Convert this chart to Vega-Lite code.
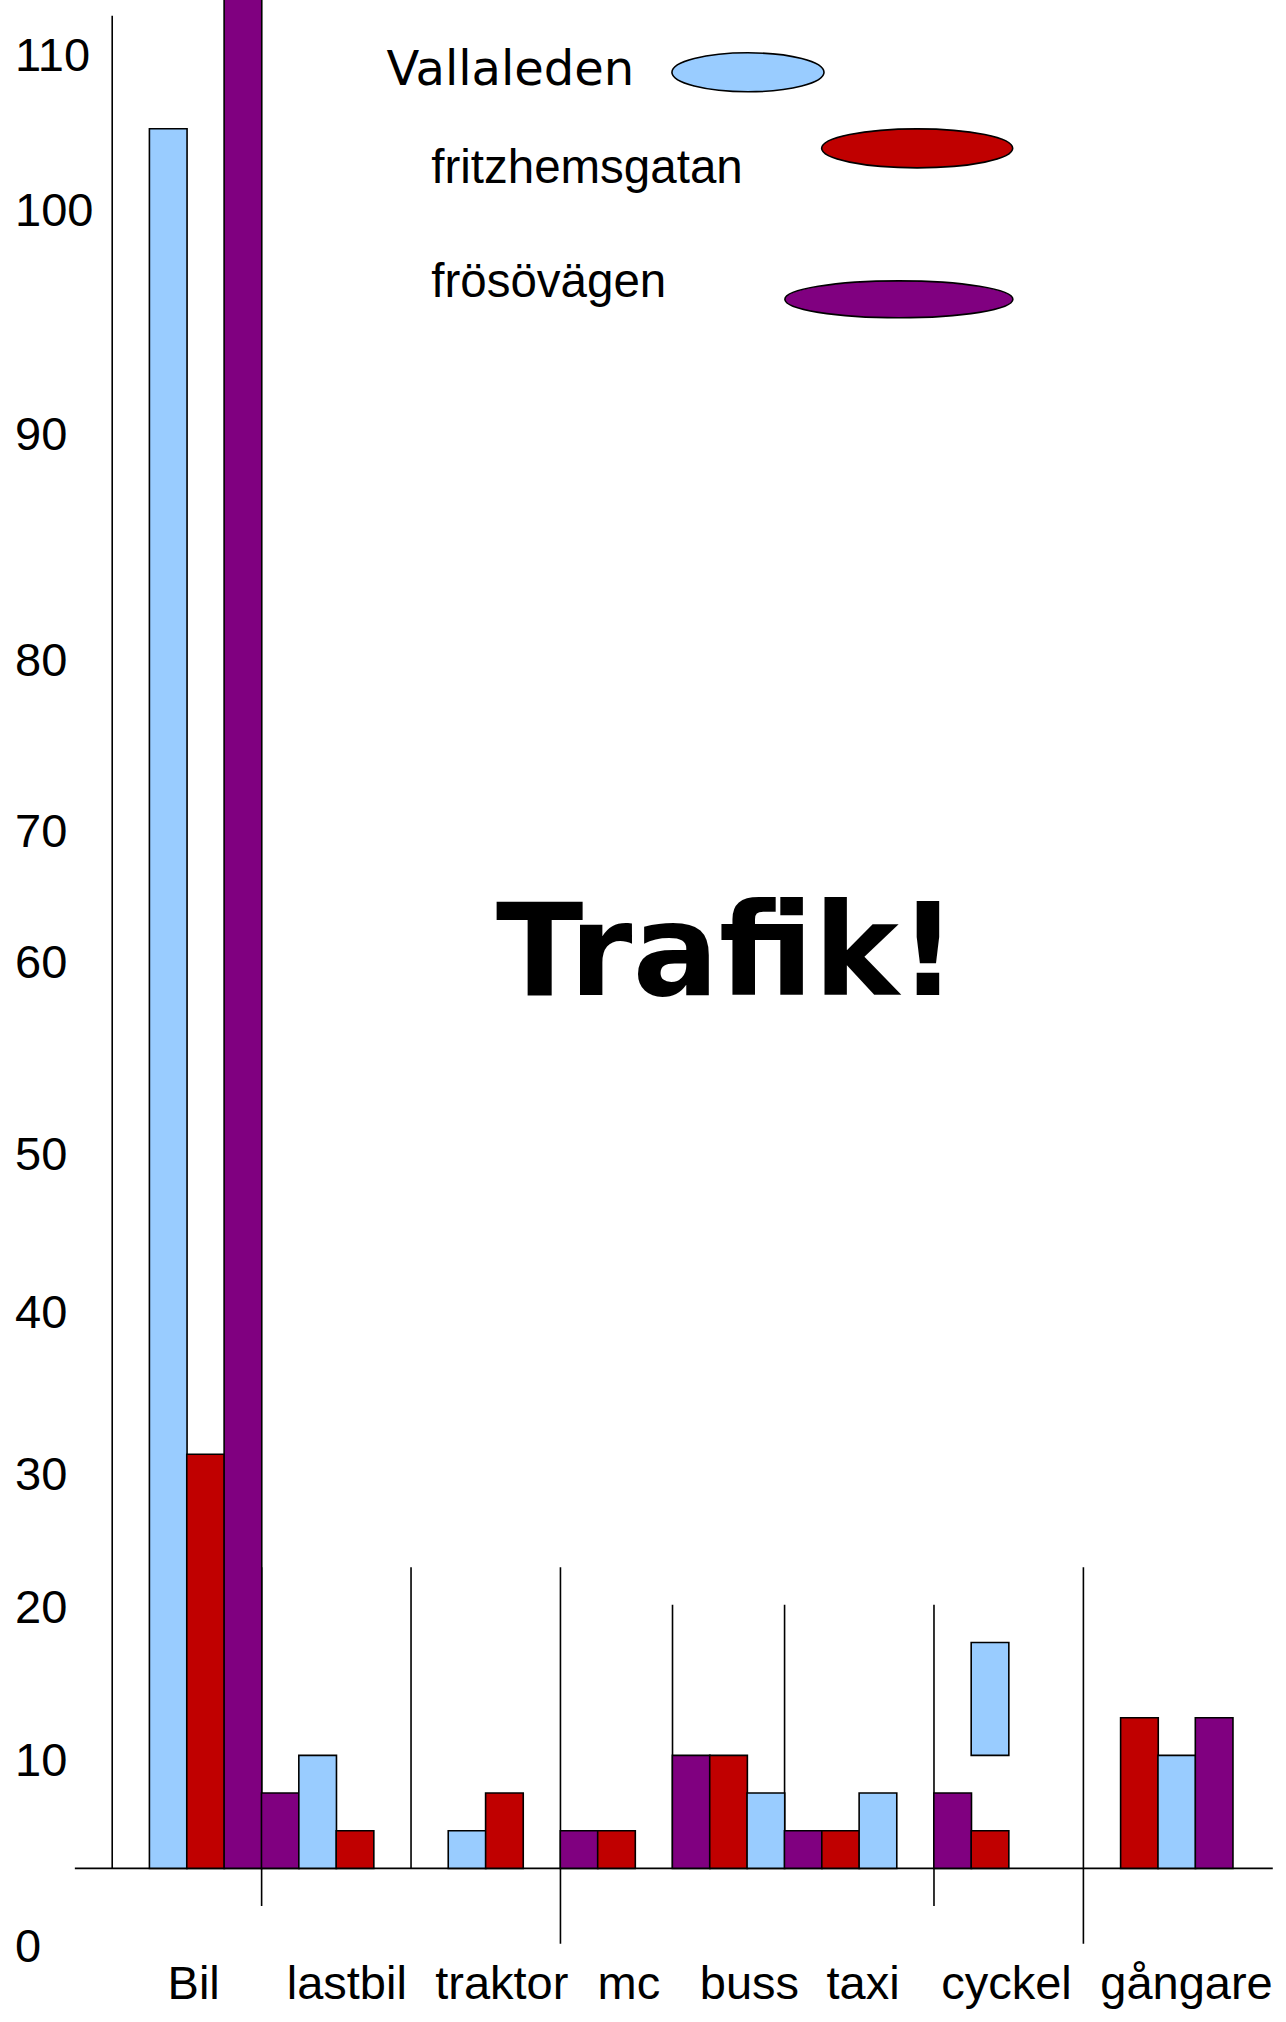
{
  "$schema": "https://vega.github.io/schema/vega-lite/v6.json",
  "width": 1286,
  "height": 2022,
  "autosize": {"type": "none"},
  "padding": 0,
  "background": "white",
  "config": {"view": {"stroke": null}},
  "layer": [
    {
      "data": {"values": [
        {"x": -1, "x2": -1, "y": 0, "y2": 49.2},
        {"x": -2, "x2": 30.07, "y": 0, "y2": 0},
        {"x": 3, "x2": 3, "y": 8, "y2": -1},
        {"x": 7, "x2": 7, "y": 8, "y2": 0},
        {"x": 11, "x2": 11, "y": 8, "y2": -2},
        {"x": 14, "x2": 14, "y": 7, "y2": 0},
        {"x": 17, "x2": 17, "y": 7, "y2": 0},
        {"x": 21, "x2": 21, "y": 7, "y2": -1},
        {"x": 25, "x2": 25, "y": 8, "y2": -2}
      ]},
      "mark": {"type": "rule", "color": "black", "strokeWidth": 1.6},
      "encoding": {
        "x": {"field": "x", "type": "quantitative", "scale": {"domain": [-3.87, 30.29], "nice": false, "zero": false}, "axis": null},
        "x2": {"field": "x2"},
        "y": {"field": "y", "type": "quantitative", "scale": {"domain": [-4.08, 49.62], "nice": false, "zero": false}, "axis": null},
        "y2": {"field": "y2"}
      }
    },
    {
      "data": {"values": [
        {"kategori": "Bil", "gata": "Vallaleden", "plats": 0.5, "bas": 0, "antal": 46.2},
        {"kategori": "Bil", "gata": "fritzhemsgatan", "plats": 1.5, "bas": 0, "antal": 11},
        {"kategori": "Bil", "gata": "frösövägen", "plats": 2.5, "bas": 0, "antal": 50},
        {"kategori": "lastbil", "gata": "frösövägen", "plats": 3.5, "bas": 0, "antal": 2},
        {"kategori": "lastbil", "gata": "Vallaleden", "plats": 4.5, "bas": 0, "antal": 3},
        {"kategori": "lastbil", "gata": "fritzhemsgatan", "plats": 5.5, "bas": 0, "antal": 1},
        {"kategori": "traktor", "gata": "Vallaleden", "plats": 8.5, "bas": 0, "antal": 1},
        {"kategori": "traktor", "gata": "fritzhemsgatan", "plats": 9.5, "bas": 0, "antal": 2},
        {"kategori": "mc", "gata": "frösövägen", "plats": 11.5, "bas": 0, "antal": 1},
        {"kategori": "mc", "gata": "fritzhemsgatan", "plats": 12.5, "bas": 0, "antal": 1},
        {"kategori": "buss", "gata": "frösövägen", "plats": 14.5, "bas": 0, "antal": 3},
        {"kategori": "buss", "gata": "fritzhemsgatan", "plats": 15.5, "bas": 0, "antal": 3},
        {"kategori": "buss", "gata": "Vallaleden", "plats": 16.5, "bas": 0, "antal": 2},
        {"kategori": "taxi", "gata": "frösövägen", "plats": 17.5, "bas": 0, "antal": 1},
        {"kategori": "taxi", "gata": "fritzhemsgatan", "plats": 18.5, "bas": 0, "antal": 1},
        {"kategori": "taxi", "gata": "Vallaleden", "plats": 19.5, "bas": 0, "antal": 2},
        {"kategori": "cyckel", "gata": "frösövägen", "plats": 21.5, "bas": 0, "antal": 2},
        {"kategori": "cyckel", "gata": "fritzhemsgatan", "plats": 22.5, "bas": 0, "antal": 1},
        {"kategori": "cyckel", "gata": "Vallaleden", "plats": 22.5, "bas": 3, "antal": 6},
        {"kategori": "gångare", "gata": "fritzhemsgatan", "plats": 26.5, "bas": 0, "antal": 4},
        {"kategori": "gångare", "gata": "Vallaleden", "plats": 27.5, "bas": 0, "antal": 3},
        {"kategori": "gångare", "gata": "frösövägen", "plats": 28.5, "bas": 0, "antal": 4}
      ]},
      "mark": {"type": "bar", "width": 37.65, "stroke": "black", "strokeWidth": 1.6, "clip": true, "opacity": 1},
      "encoding": {
        "x": {"field": "plats", "type": "quantitative", "scale": {"domain": [-3.87, 30.29], "nice": false, "zero": false}, "axis": null},
        "y": {"field": "antal", "type": "quantitative", "scale": {"domain": [-4.08, 49.62], "nice": false, "zero": false}, "axis": null},
        "y2": {"field": "bas"},
        "color": {"field": "gata", "type": "nominal", "scale": {"domain": ["Vallaleden", "fritzhemsgatan", "frösövägen"], "range": ["#99CCFF", "#C00000", "#800080"]}, "legend": null}
      }
    },
    {
      "data": {"values": [
        {"gata": "Vallaleden", "x": 16.02, "y": 47.7},
        {"gata": "fritzhemsgatan", "x": 20.55, "y": 45.68},
        {"gata": "frösövägen", "x": 20.06, "y": 41.67}
      ]},
      "mark": {"type": "point", "filled": true, "opacity": 1, "size": 51984, "stroke": "black", "strokeWidth": 1.6},
      "encoding": {
        "x": {"field": "x", "type": "quantitative", "scale": {"domain": [-3.87, 30.29], "nice": false, "zero": false}, "axis": null},
        "y": {"field": "y", "type": "quantitative", "scale": {"domain": [-4.08, 49.62], "nice": false, "zero": false}, "axis": null},
        "color": {"field": "gata", "type": "nominal", "scale": {"domain": ["Vallaleden", "fritzhemsgatan", "frösövägen"], "range": ["#99CCFF", "#C00000", "#800080"]}, "legend": null},
        "shape": {"field": "gata", "type": "nominal", "scale": {"domain": ["Vallaleden", "fritzhemsgatan", "frösövägen"], "range": [
          "M-0.667,0C-0.667,-0.0944,-0.368,-0.171,0,-0.171C0.368,-0.171,0.667,-0.0944,0.667,0C0.667,0.0944,0.368,0.171,0,0.171C-0.368,0.171,-0.667,0.0944,-0.667,0Z",
          "M-0.838,0C-0.838,-0.0944,-0.463,-0.171,0,-0.171C0.463,-0.171,0.838,-0.0944,0.838,0C0.838,0.0944,0.463,0.171,0,0.171C-0.463,0.171,-0.838,0.0944,-0.838,0Z",
          "M-1,0C-1,-0.0895,-0.552,-0.162,0,-0.162C0.552,-0.162,1,-0.0895,1,0C1,0.0895,0.552,0.162,0,0.162C-0.552,0.162,-1,0.0895,-1,0Z"
        ]}, "legend": null}
      }
    },
    {
      "data": {"values": [
        {"etikett": "110", "pos": 47.74},
        {"etikett": "100", "pos": 43.63},
        {"etikett": "90", "pos": 37.67},
        {"etikett": "80", "pos": 31.67},
        {"etikett": "70", "pos": 27.13},
        {"etikett": "60", "pos": 23.65},
        {"etikett": "50", "pos": 18.55},
        {"etikett": "40", "pos": 14.35},
        {"etikett": "30", "pos": 10.05},
        {"etikett": "20", "pos": 6.52},
        {"etikett": "10", "pos": 2.46},
        {"etikett": "0", "pos": -2.49}
      ]},
      "mark": {"type": "text", "align": "left", "baseline": "alphabetic", "font": "Liberation Sans", "fontSize": 47, "color": "black"},
      "encoding": {
        "x": {"datum": -3.6, "type": "quantitative", "scale": {"domain": [-3.87, 30.29], "nice": false, "zero": false}, "axis": null},
        "y": {"field": "pos", "type": "quantitative", "scale": {"domain": [-4.08, 49.62], "nice": false, "zero": false}, "axis": null},
        "text": {"field": "etikett"}
      }
    },
    {
      "data": {"values": [
        {"kategori": "Bil", "pos": 1.18},
        {"kategori": "lastbil", "pos": 5.28},
        {"kategori": "traktor", "pos": 9.43},
        {"kategori": "mc", "pos": 12.83},
        {"kategori": "buss", "pos": 16.06},
        {"kategori": "taxi", "pos": 19.1},
        {"kategori": "cyckel", "pos": 22.94},
        {"kategori": "gångare", "pos": 27.76}
      ]},
      "mark": {"type": "text", "align": "center", "baseline": "alphabetic", "font": "Liberation Sans", "fontSize": 47, "color": "black"},
      "encoding": {
        "x": {"field": "pos", "type": "quantitative", "scale": {"domain": [-3.87, 30.29], "nice": false, "zero": false}, "axis": null},
        "y": {"datum": -3.46, "type": "quantitative", "scale": {"domain": [-4.08, 49.62], "nice": false, "zero": false}, "axis": null},
        "text": {"field": "kategori"}
      }
    },
    {
      "data": {"values": [
        {"gata": "Vallaleden", "x": 6.34, "y": 47.36}
      ]},
      "mark": {"type": "text", "align": "left", "baseline": "alphabetic", "font": "DejaVu Sans", "fontSize": 48, "color": "black"},
      "encoding": {
        "x": {"field": "x", "type": "quantitative", "scale": {"domain": [-3.87, 30.29], "nice": false, "zero": false}, "axis": null},
        "y": {"field": "y", "type": "quantitative", "scale": {"domain": [-4.08, 49.62], "nice": false, "zero": false}, "axis": null},
        "text": {"field": "gata"}
      }
    },
    {
      "data": {"values": [
        {"gata": "fritzhemsgatan", "x": 7.54, "y": 44.76},
        {"gata": "frösövägen", "x": 7.54, "y": 41.73}
      ]},
      "mark": {"type": "text", "align": "left", "baseline": "alphabetic", "font": "Liberation Sans", "fontSize": 47.5, "color": "black"},
      "encoding": {
        "x": {"field": "x", "type": "quantitative", "scale": {"domain": [-3.87, 30.29], "nice": false, "zero": false}, "axis": null},
        "y": {"field": "y", "type": "quantitative", "scale": {"domain": [-4.08, 49.62], "nice": false, "zero": false}, "axis": null},
        "text": {"field": "gata"}
      }
    },
    {
      "data": {"values": [
        {"rubrik": "Trafik!", "x": 15.45, "y": 23.19}
      ]},
      "mark": {"type": "text", "align": "center", "baseline": "alphabetic", "font": "DejaVu Sans", "fontWeight": "bold", "fontSize": 128, "color": "black"},
      "encoding": {
        "x": {"field": "x", "type": "quantitative", "scale": {"domain": [-3.87, 30.29], "nice": false, "zero": false}, "axis": null},
        "y": {"field": "y", "type": "quantitative", "scale": {"domain": [-4.08, 49.62], "nice": false, "zero": false}, "axis": null},
        "text": {"field": "rubrik"}
      }
    }
  ]
}
